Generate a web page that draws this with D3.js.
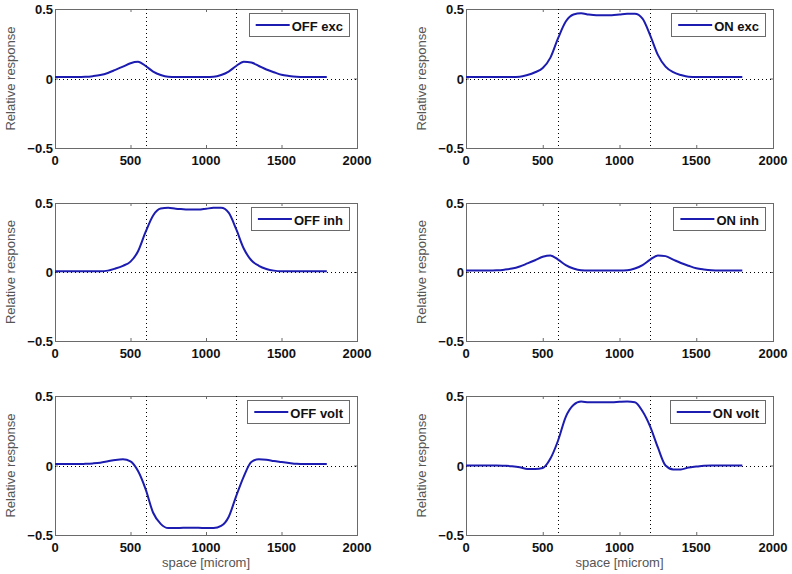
<!DOCTYPE html>
<html>
<head>
<meta charset="utf-8">
<script src="https://cdn.jsdelivr.net/npm/d3@7"></script>
<style>
  body { margin: 0; background: #fff; }
  svg { display: block; }
</style>
</head>
<body>
<svg id="chart" width="792" height="574"></svg>
<script>
// sample positions along space (microm)
const space = d3.range(0, 1801, 50);

const offExc = [0.01, 0.01, 0.01, 0.01, 0.012, 0.017, 0.025, 0.04, 0.062, 0.085, 0.11, 0.12, 0.09,
  0.05, 0.025, 0.012, 0.01, 0.01, 0.01, 0.01, 0.01, 0.012, 0.025, 0.05, 0.09, 0.12, 0.115, 0.09,
  0.065, 0.045, 0.027, 0.018, 0.012, 0.01, 0.01, 0.01, 0.01];
const onExc = [0.01, 0.01, 0.01, 0.01, 0.01, 0.01, 0.01, 0.012, 0.025, 0.045, 0.075, 0.15, 0.29,
  0.41, 0.46, 0.47, 0.46, 0.455, 0.455, 0.455, 0.46, 0.465, 0.465, 0.43, 0.31, 0.17, 0.085, 0.045,
  0.025, 0.012, 0.01, 0.01, 0.01, 0.01, 0.01, 0.01, 0.01];
const offInh = [0.006, 0.006, 0.006, 0.006, 0.006, 0.006, 0.006, 0.01, 0.025, 0.045, 0.075, 0.15, 0.29,
  0.41, 0.46, 0.465, 0.458, 0.455, 0.452, 0.452, 0.458, 0.465, 0.465, 0.43, 0.31, 0.17, 0.085, 0.045,
  0.022, 0.01, 0.006, 0.006, 0.006, 0.006, 0.006, 0.006, 0.006];
const onInh = [0.01, 0.01, 0.01, 0.01, 0.012, 0.017, 0.025, 0.04, 0.062, 0.085, 0.11, 0.12, 0.09,
  0.05, 0.025, 0.012, 0.01, 0.01, 0.01, 0.01, 0.01, 0.012, 0.025, 0.05, 0.09, 0.12, 0.115, 0.09,
  0.065, 0.045, 0.027, 0.018, 0.012, 0.01, 0.01, 0.01, 0.01];
const offVolt = [0.01, 0.01, 0.01, 0.01, 0.012, 0.015, 0.02, 0.03, 0.04, 0.045, 0.03, -0.04, -0.17,
  -0.34, -0.42, -0.45, -0.45, -0.448, -0.448, -0.448, -0.45, -0.45, -0.435, -0.37, -0.22, -0.08,
  0.025, 0.045, 0.042, 0.032, 0.025, 0.018, 0.012, 0.01, 0.01, 0.01, 0.01];
const onVolt = [0, 0, 0, 0, 0, -0.002, -0.005, -0.012, -0.025, -0.025, -0.018, 0.05, 0.18,
  0.35, 0.435, 0.46, 0.455, 0.455, 0.455, 0.455, 0.458, 0.46, 0.455, 0.39, 0.28, 0.13, 0.0,
  -0.028, -0.028, -0.015, -0.008, -0.002, 0, 0, 0, 0, 0];

const legendNames = ["OFF exc", "ON exc", "OFF inh", "ON inh", "OFF volt", "ON volt"];
const seriesList = [offExc, onExc, offInh, onInh, offVolt, onVolt];
const xTicks = [0, 500, 1000, 1500, 2000];
const yTicks = [-0.5, 0, 0.5];
const markers = [600, 1200];

const svg = d3.select("#chart");
const cols = [[55, 357], [466, 773]];
const rows = [[9, 148], [203, 341], [396, 535]];
const lineColor = "#1c1cb0";
const boxColor = "#6a6a6a";
const boldFont = "bold 13px 'Liberation Sans', Arial, sans-serif";
const labelFont = "13px 'Liberation Sans', Arial, sans-serif";

seriesList.forEach((values, i) => {
  const [x0, x1] = cols[i % 2];
  const [y0, y1] = rows[Math.floor(i / 2)];

  const x = d3.scaleLinear().domain([0, 2000]).range([x0, x1]);
  const y = d3.scaleLinear().domain([-0.5, 0.5]).range([y1, y0]);

  const g = svg.append("g");

  // axes box with inward ticks
  g.append("rect")
    .attr("x", x0 + 0.5).attr("y", y0 + 0.5)
    .attr("width", x1 - x0).attr("height", y1 - y0)
    .attr("fill", "#fff").attr("stroke", boxColor);

  const tickLen = 3;
  xTicks.forEach(t => {
    g.append("line").attr("x1", x(t) + 0.5).attr("x2", x(t) + 0.5)
      .attr("y1", y1).attr("y2", y1 - tickLen).attr("stroke", boxColor);
    g.append("line").attr("x1", x(t) + 0.5).attr("x2", x(t) + 0.5)
      .attr("y1", y0).attr("y2", y0 + tickLen).attr("stroke", boxColor);
  });
  yTicks.forEach(t => {
    g.append("line").attr("x1", x0).attr("x2", x0 + tickLen)
      .attr("y1", y(t) + 0.5).attr("y2", y(t) + 0.5).attr("stroke", boxColor);
    g.append("line").attr("x1", x1).attr("x2", x1 - tickLen)
      .attr("y1", y(t) + 0.5).attr("y2", y(t) + 0.5).attr("stroke", boxColor);
  });

  // dotted reference lines
  markers.forEach(m => {
    g.append("line")
      .attr("x1", Math.round(x(m)) + 0.5).attr("x2", Math.round(x(m)) + 0.5)
      .attr("y1", y0).attr("y2", y1)
      .attr("stroke", "#000").attr("stroke-dasharray", "1,3");
  });
  g.append("line")
    .attr("x1", x0).attr("x2", x1)
    .attr("y1", Math.round(y(0)) + 0.5).attr("y2", Math.round(y(0)) + 0.5)
    .attr("stroke", "#000").attr("stroke-dasharray", "1,3");

  // tick labels
  g.selectAll(".xt").data(xTicks).join("text")
    .attr("x", d => x(d)).attr("y", y1 + 17)
    .attr("text-anchor", "middle")
    .style("font", boldFont)
    .attr("fill", "#111")
    .text(d => d);
  g.selectAll(".yt").data(yTicks).join("text")
    .attr("x", x0 - 2).attr("y", d => y(d) + 5)
    .attr("text-anchor", "end")
    .style("font", boldFont)
    .attr("fill", "#111")
    .text(d => d === 0 ? "0" : d3.format(".1f")(d));

  // y label
  g.append("text")
    .attr("transform", `translate(${x0 - 40},${(y0 + y1) / 2}) rotate(-90)`)
    .attr("text-anchor", "middle")
    .style("font", labelFont)
    .attr("fill", "#555")
    .text("Relative response");

  if (i >= 4) {
    g.append("text")
      .attr("x", (x0 + x1) / 2).attr("y", y1 + 32)
      .attr("text-anchor", "middle")
      .style("font", labelFont)
      .attr("fill", "#555")
      .text("space [microm]");
  }

  // the curve
  const line = d3.line()
    .x((d, k) => x(space[k]))
    .y(d => y(d))
    .curve(d3.curveMonotoneX);
  g.append("path")
    .datum(values)
    .attr("d", line)
    .attr("fill", "none")
    .attr("stroke", lineColor)
    .attr("stroke-width", 2);

  // legend
  const leg = g.append("g");
  const label = leg.append("text")
    .attr("y", y0 + 22)
    .style("font", boldFont)
    .attr("fill", "#111")
    .text(legendNames[i]);
  const tw = label.node().getComputedTextLength();
  const boxW = 7 + 34 + 2 + tw + 6;
  const bx = x1 - 8 - boxW;
  leg.insert("rect", "text")
    .attr("x", Math.round(bx) + 0.5).attr("y", y0 + 4.5)
    .attr("width", Math.round(boxW)).attr("height", 23)
    .attr("fill", "#fff").attr("stroke", boxColor);
  leg.insert("line", "text")
    .attr("x1", bx + 7).attr("x2", bx + 41)
    .attr("y1", y0 + 16).attr("y2", y0 + 16)
    .attr("stroke", lineColor).attr("stroke-width", 2);
  label.attr("x", bx + 43);
});
</script>
</body>
</html>
